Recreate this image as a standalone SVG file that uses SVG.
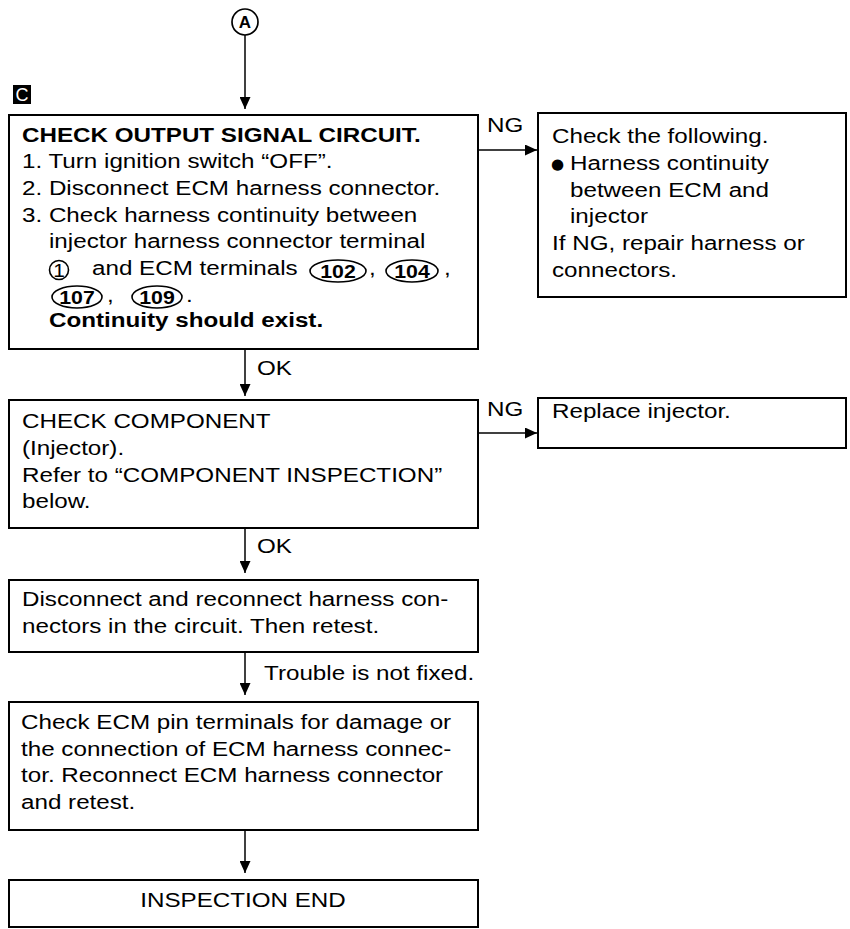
<svg xmlns="http://www.w3.org/2000/svg" width="850" height="929" viewBox="0 0 850 929">
<style>
.t{font-family:"Liberation Sans",Arial,Helvetica,sans-serif;font-size:20px;fill:#000}
.b{font-weight:bold}
.m{text-anchor:middle}
.n{font-size:19px}
.box{fill:#fff;stroke:#000;stroke-width:2}
.ov{fill:none;stroke:#000;stroke-width:1.6}
.con{fill:none;stroke:#000;stroke-width:1.5}
</style>
<defs>
<marker id="ah" viewBox="0 0 12 11" refX="12" refY="5.5" markerWidth="12" markerHeight="11" markerUnits="userSpaceOnUse" orient="auto">
<path d="M0,0 L12,5.5 L0,11 Z" fill="#000"/>
</marker>
</defs>
<rect width="850" height="929" fill="#fff"/>

<g id="connectors">
<path class="con" d="M245,35 V109" marker-end="url(#ah)"/>
<path class="con" d="M245,350 V396" marker-end="url(#ah)"/>
<path class="con" d="M245,529 V573" marker-end="url(#ah)"/>
<path class="con" d="M245,653 V695" marker-end="url(#ah)"/>
<path class="con" d="M245,831 V873" marker-end="url(#ah)"/>
<path class="con" d="M479,150 H537" marker-end="url(#ah)"/>
<path class="con" d="M479,433 H537" marker-end="url(#ah)"/>
<text class="t" transform="matrix(1.21 0 0 1 487 132)">NG</text>
<text class="t" transform="matrix(1.21 0 0 1 487 416)">NG</text>
<text class="t" transform="matrix(1.21 0 0 1 257 375)">OK</text>
<text class="t" transform="matrix(1.21 0 0 1 257 553)">OK</text>
<text class="t" transform="matrix(1.21 0 0 1 264 680)">Trouble is not fixed.</text>
</g>

<g id="nodeA">
<circle cx="245" cy="22" r="13" fill="#fff" stroke="#000" stroke-width="1.7"/>
<text class="t b m" style="font-size:17px" x="245" y="28">A</text>
</g>

<g id="labelC">
<rect x="13" y="85" width="18" height="19" fill="#000"/>
<text class="t m" style="font-size:18px;fill:#fff" x="22" y="101">C</text>
</g>

<g id="box1">
<rect class="box" x="9" y="115" width="469" height="234"/>
<text class="t b" transform="matrix(1.21 0 0 1 22 142)">CHECK OUTPUT SIGNAL CIRCUIT.</text>
<text class="t" transform="matrix(1.21 0 0 1 22 168)">1. Turn ignition switch “OFF”.</text>
<text class="t" transform="matrix(1.21 0 0 1 22 195)">2. Disconnect ECM harness connector.</text>
<text class="t" transform="matrix(1.21 0 0 1 22 222)">3. Check harness continuity between</text>
<text class="t" transform="matrix(1.21 0 0 1 49 248)">injector harness connector terminal</text>
<circle class="ov" cx="59" cy="270" r="9.5"/>
<text class="t m n" transform="matrix(1.1 0 0 1 59 277)">1</text>
<text class="t" transform="matrix(1.21 0 0 1 92 275)">and ECM terminals</text>
<ellipse class="ov" cx="338" cy="271" rx="28" ry="11"/>
<text class="t b m n" transform="matrix(1.12 0 0 1 338 278)">102</text>
<text class="t" transform="matrix(1.21 0 0 1 369 275)">,</text>
<ellipse class="ov" cx="412" cy="271" rx="26" ry="11"/>
<text class="t b m n" transform="matrix(1.12 0 0 1 412 278)">104</text>
<text class="t" transform="matrix(1.21 0 0 1 444 275)">,</text>
<ellipse class="ov" cx="77" cy="297" rx="25" ry="11"/>
<text class="t b m n" transform="matrix(1.12 0 0 1 77 304)">107</text>
<text class="t" transform="matrix(1.21 0 0 1 107 302)">,</text>
<ellipse class="ov" cx="157" cy="297" rx="25" ry="11"/>
<text class="t b m n" transform="matrix(1.12 0 0 1 157 304)">109</text>
<text class="t" transform="matrix(1.21 0 0 1 186 302)">.</text>
<text class="t b" transform="matrix(1.21 0 0 1 49 327)">Continuity should exist.</text>
</g>

<g id="ng1">
<rect class="box" x="538" y="113" width="308" height="184"/>
<text class="t" transform="matrix(1.21 0 0 1 552 143)">Check the following.</text>
<text style="font-family:'DejaVu Sans',sans-serif;font-size:15px" x="551" y="169">●</text>
<text class="t" transform="matrix(1.21 0 0 1 570 170)">Harness continuity</text>
<text class="t" transform="matrix(1.21 0 0 1 570 197)">between ECM and</text>
<text class="t" transform="matrix(1.21 0 0 1 570 223)">injector</text>
<text class="t" transform="matrix(1.21 0 0 1 552 250)">If NG, repair harness or</text>
<text class="t" transform="matrix(1.21 0 0 1 552 277)">connectors.</text>
</g>

<g id="box2">
<rect class="box" x="9" y="400" width="469" height="128"/>
<text class="t" transform="matrix(1.21 0 0 1 22 428)">CHECK COMPONENT</text>
<text class="t" transform="matrix(1.21 0 0 1 22 455)">(Injector).</text>
<text class="t" transform="matrix(1.21 0 0 1 22 482)">Refer to “COMPONENT INSPECTION”</text>
<text class="t" transform="matrix(1.21 0 0 1 22 508)">below.</text>
</g>

<g id="ng2">
<rect class="box" x="538" y="398" width="308" height="50"/>
<text class="t" transform="matrix(1.21 0 0 1 552 418)">Replace injector.</text>
</g>

<g id="box3">
<rect class="box" x="9" y="580" width="469" height="72"/>
<text class="t" transform="matrix(1.21 0 0 1 22 606)">Disconnect and reconnect harness con-</text>
<text class="t" transform="matrix(1.21 0 0 1 22 633)">nectors in the circuit. Then retest.</text>
</g>

<g id="box4">
<rect class="box" x="9" y="702" width="469" height="128"/>
<text class="t" transform="matrix(1.21 0 0 1 21 729)">Check ECM pin terminals for damage or</text>
<text class="t" transform="matrix(1.21 0 0 1 21 756)">the connection of ECM harness connec-</text>
<text class="t" transform="matrix(1.21 0 0 1 21 782)">tor. Reconnect ECM harness connector</text>
<text class="t" transform="matrix(1.21 0 0 1 21 809)">and retest.</text>
</g>

<g id="box5">
<rect class="box" x="9" y="880" width="469" height="47"/>
<text class="t m" transform="matrix(1.21 0 0 1 243 907)">INSPECTION END</text>
</g>
</svg>
